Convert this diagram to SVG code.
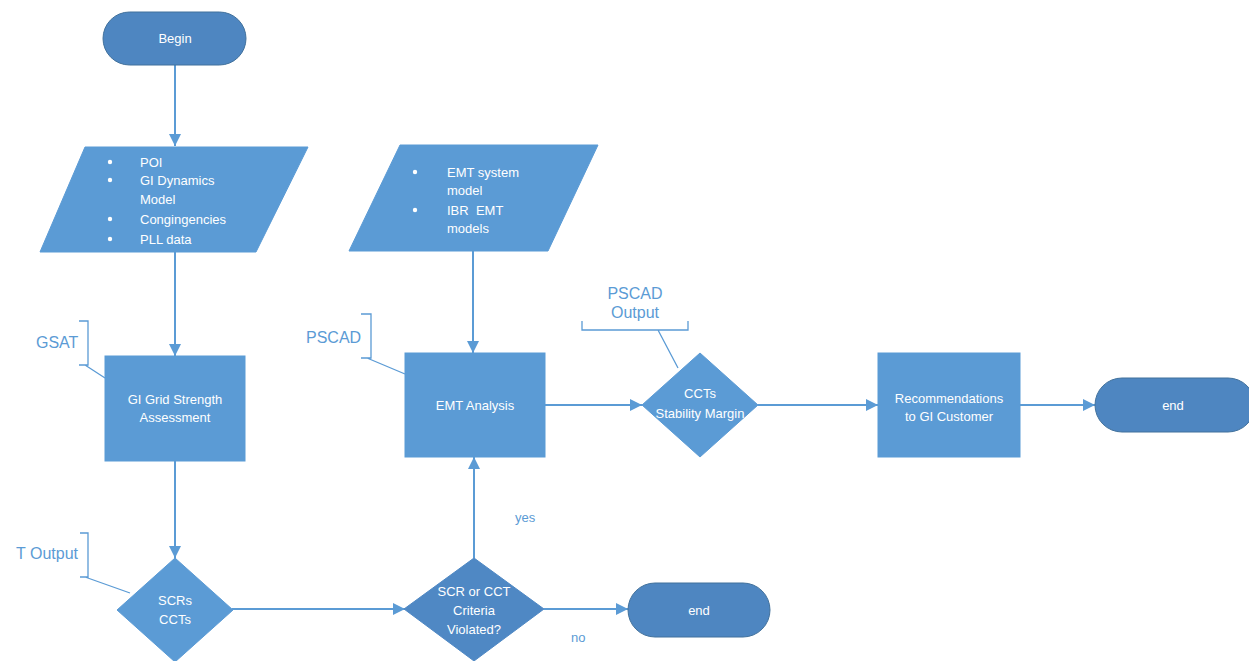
<svg xmlns="http://www.w3.org/2000/svg" width="1249" height="661" viewBox="0 0 1249 661">
<style>
.box{fill:#5b9bd5;stroke:#5b9bd5;stroke-width:1}
.term{fill:#4e86c1;stroke:#41719c;stroke-width:1}
.dec{fill:#5b9bd5;stroke:#5b9bd5}
.dec2{fill:#4f88c4;stroke:#4f88c4}
.t{font-family:"Liberation Sans",Arial,sans-serif;font-size:13px;fill:#ffffff;text-anchor:middle}
.tl{font-family:"Liberation Sans",Arial,sans-serif;font-size:13px;fill:#ffffff;white-space:pre}
.ann{font-family:"Liberation Sans",Arial,sans-serif;font-size:16px;fill:#5b9bd5}
.lbl{font-family:"Liberation Sans",Arial,sans-serif;font-size:13px;fill:#5b9bd5}
.conn{stroke:#5b9bd5;stroke-width:2;fill:none}
.br{stroke:#5b9bd5;stroke-width:1.3;fill:none}
</style>
<defs>
<marker id="arr" viewBox="0 0 10 10" refX="10" refY="5" markerWidth="6" markerHeight="6" orient="auto">
<path d="M0,0 L10,5 L0,10 z" fill="#5b9bd5"/>
</marker>
</defs>
<rect width="1249" height="661" fill="#ffffff"/>

<g id="connectors">
<line class="conn" x1="175" y1="65" x2="175" y2="146" marker-end="url(#arr)"/>
<line class="conn" x1="175" y1="252" x2="175" y2="356" marker-end="url(#arr)"/>
<line class="conn" x1="473" y1="251" x2="473" y2="353" marker-end="url(#arr)"/>
<line class="conn" x1="175" y1="461" x2="175" y2="558" marker-end="url(#arr)"/>
<line class="conn" x1="232" y1="609" x2="405" y2="609" marker-end="url(#arr)"/>
<line class="conn" x1="474" y1="558" x2="474" y2="457" marker-end="url(#arr)"/>
<line class="conn" x1="544" y1="609" x2="628" y2="609" marker-end="url(#arr)"/>
<line class="conn" x1="545" y1="405" x2="642" y2="405" marker-end="url(#arr)"/>
<line class="conn" x1="758" y1="405" x2="878" y2="405" marker-end="url(#arr)"/>
<line class="conn" x1="1020" y1="405" x2="1095" y2="405" marker-end="url(#arr)"/>
<text class="lbl" x="515" y="522">yes</text>
<text class="lbl" x="571" y="642">no</text>
</g>

<g id="begin">
<rect class="term" x="103" y="12" width="143" height="53" rx="26.5"/>
<text class="t" x="175" y="43">Begin</text>
</g>

<g id="inputs1">
<polygon class="box" points="85,147 308,147 256,252 40,252"/>
<circle cx="110" cy="162" r="2.2" fill="#fff"/>
<circle cx="110" cy="180" r="2.2" fill="#fff"/>
<circle cx="110" cy="219" r="2.2" fill="#fff"/>
<circle cx="110" cy="239" r="2.2" fill="#fff"/>
<text class="tl" x="140" y="167">POI</text>
<text class="tl" x="140" y="185">GI Dynamics</text>
<text class="tl" x="140" y="204">Model</text>
<text class="tl" x="140" y="224">Congingencies</text>
<text class="tl" x="140" y="244">PLL data</text>
</g>

<g id="inputs2">
<polygon class="box" points="400,145 598,145 548,251 349,251"/>
<circle cx="415" cy="172" r="2.2" fill="#fff"/>
<circle cx="415" cy="210" r="2.2" fill="#fff"/>
<text class="tl" x="447" y="177">EMT system</text>
<text class="tl" x="447" y="195">model</text>
<text class="tl" x="447" y="215" xml:space="preserve">IBR  EMT</text>
<text class="tl" x="447" y="233">models</text>
</g>

<g id="gsat">
<rect class="box" x="105" y="356" width="140" height="105"/>
<text class="t" x="175" y="404">GI Grid Strength</text>
<text class="t" x="175" y="422">Assessment</text>
</g>
<g id="gsat-note">
<path class="br" d="M79,321 H88 V365 H79 M85,365 L105,378"/>
<text class="ann" x="36" y="348">GSAT</text>
</g>

<g id="emt">
<rect class="box" x="405" y="353" width="140" height="104"/>
<text class="t" x="475" y="410">EMT Analysis</text>
</g>
<g id="pscad-note">
<path class="br" d="M361,314 H371 V358 H361 M367,358 L405,374"/>
<text class="ann" x="306" y="343">PSCAD</text>
</g>

<g id="ccts">
<polygon class="dec" points="700,353 758,405 700,457 642,405"/>
<text class="t" x="700" y="398">CCTs</text>
<text class="t" x="700" y="418">Stability Margin</text>
</g>
<g id="pscad-output-note">
<path class="br" d="M582,321 V330 H688 V321 M658,330 L678,368"/>
<text class="ann" x="635" y="299" text-anchor="middle">PSCAD</text>
<text class="ann" x="635" y="318" text-anchor="middle">Output</text>
</g>

<g id="recommend">
<rect class="box" x="878" y="353" width="142" height="104"/>
<text class="t" x="949" y="403">Recommendations</text>
<text class="t" x="949" y="421">to GI Customer</text>
</g>

<g id="end1">
<rect class="term" x="1095" y="378" width="160" height="54" rx="27"/>
<text class="t" x="1173" y="410">end</text>
</g>

<g id="scrs">
<polygon class="dec" points="175,558 233,610 175,662 117,610"/>
<text class="t" x="175" y="605">SCRs</text>
<text class="t" x="175" y="624">CCTs</text>
</g>
<g id="gsat-output-note">
<path class="br" d="M80,533 H88 V577 H80 M85,577 L130,593"/>
<text class="ann" x="78" y="559" text-anchor="end">T Output</text>
</g>

<g id="violated">
<polygon class="dec2" points="474,558 544,609 474,661 404,609"/>
<text class="t" x="474" y="596">SCR or CCT</text>
<text class="t" x="474" y="615">Criteria</text>
<text class="t" x="474" y="634">Violated?</text>
</g>

<g id="end2">
<rect class="term" x="628" y="583" width="142" height="54" rx="27"/>
<text class="t" x="699" y="615">end</text>
</g>
</svg>
